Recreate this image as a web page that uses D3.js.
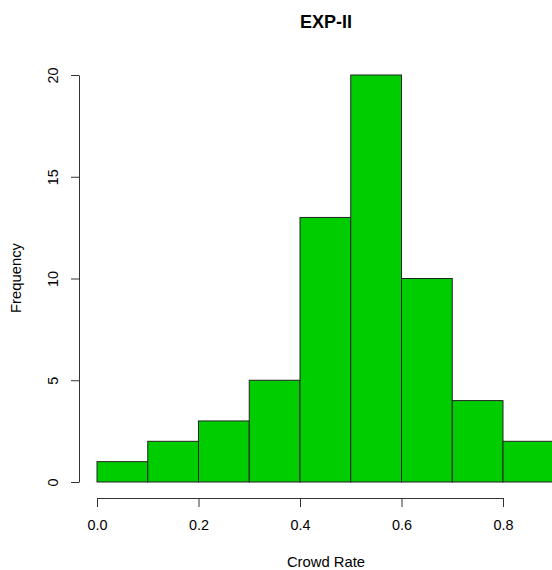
<!DOCTYPE html>
<html>
<head>
<meta charset="utf-8">
<script src="https://cdn.jsdelivr.net/npm/d3@7"></script>
<style>
  body { margin: 0; background: #fff; }
  svg { display: block; font-family: "Liberation Sans", Arial, sans-serif; }
</style>
</head>
<body>
<div class="chart"></div>
<script>
// histogram bins (Crowd Rate) and counts
var binStarts = [0.0, 0.1, 0.2, 0.3, 0.4, 0.5, 0.6, 0.7, 0.8];
var binWidth = 0.1;
var counts = [1, 2, 3, 5, 13, 20, 10, 4, 2];
var xTicks = [0.0, 0.2, 0.4, 0.6, 0.8];
var yTicks = [0, 5, 10, 15, 20];

var svgWidth = 552;
var svgHeight = 570;

var svg = d3.select(".chart")
  .append("svg")
  .attr("width", svgWidth)
  .attr("height", svgHeight);

var xScale = d3.scaleLinear()
  .domain([0, 0.8])
  .range([97, 503]);

var yScale = d3.scaleLinear()
  .domain([0, 20])
  .range([482, 75]);

var bins = binStarts.map(function(s, i) {
  return { x0: s, x1: s + binWidth, n: counts[i] };
});

// bars
svg.selectAll("rect.bar")
  .data(bins)
  .enter()
  .append("rect")
  .attr("class", "bar")
  .attr("x", d => xScale(d.x0))
  .attr("y", d => yScale(d.n))
  .attr("width", d => xScale(d.x1) - xScale(d.x0))
  .attr("height", d => yScale(0) - yScale(d.n))
  .attr("fill", "#00cd00")
  .attr("stroke", "#222")
  .attr("stroke-width", 1);

// x axis
var bottomAxis = d3.axisBottom(xScale)
  .tickValues(xTicks)
  .tickFormat(d3.format(".1f"))
  .tickSize(9)
  .tickSizeOuter(0)
  .tickPadding(13);

var gx = svg.append("g")
  .attr("transform", "translate(0, 498)")
  .call(bottomAxis);

// y axis
var leftAxis = d3.axisLeft(yScale)
  .tickValues(yTicks)
  .tickSize(8)
  .tickSizeOuter(0)
  .tickPadding(0);

var gy = svg.append("g")
  .attr("transform", "translate(79, 0)")
  .call(leftAxis);

gy.selectAll(".tick text")
  .attr("x", 0)
  .attr("dy", 0)
  .attr("transform", "translate(-21, 0) rotate(-90)")
  .attr("text-anchor", "middle");

[gx, gy].forEach(function(g) {
  g.select(".domain").attr("stroke", "#333");
  g.selectAll(".tick line").attr("stroke", "#333");
  g.selectAll(".tick text")
    .attr("fill", "#000")
    .style("font-family", "Liberation Sans, Arial, sans-serif")
    .style("font-size", "14.4px");
});

// title and labels
svg.append("text")
  .attr("x", 326)
  .attr("y", 28)
  .attr("text-anchor", "middle")
  .style("font-weight", "bold")
  .style("font-size", "18px")
  .text("EXP-II");

svg.append("text")
  .attr("x", 326)
  .attr("y", 567)
  .attr("text-anchor", "middle")
  .style("font-size", "14.8px")
  .text("Crowd Rate");

svg.append("text")
  .attr("transform", "translate(21, 278) rotate(-90)")
  .attr("text-anchor", "middle")
  .style("font-size", "14.8px")
  .text("Frequency");
</script>
</body>
</html>
